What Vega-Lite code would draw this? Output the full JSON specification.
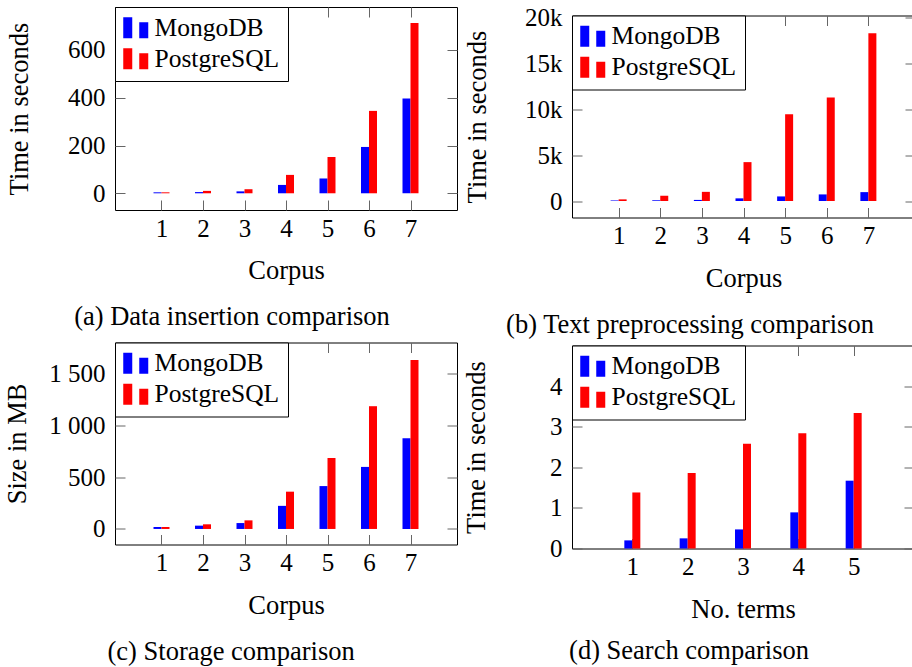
{
  "$schema": "https://vega.github.io/schema/vega-lite/v6.json",
  "padding": {"left": 4, "top": 5, "right": 0, "bottom": 0},
  "background": "white",
  "datasets": {
    "insertion": [
      {"corpus": 1, "db": "MongoDB", "value": 4}, {"corpus": 2, "db": "MongoDB", "value": 5},
      {"corpus": 3, "db": "MongoDB", "value": 8}, {"corpus": 4, "db": "MongoDB", "value": 35},
      {"corpus": 5, "db": "MongoDB", "value": 62}, {"corpus": 6, "db": "MongoDB", "value": 194},
      {"corpus": 7, "db": "MongoDB", "value": 397},
      {"corpus": 1, "db": "PostgreSQL", "value": 4}, {"corpus": 2, "db": "PostgreSQL", "value": 10},
      {"corpus": 3, "db": "PostgreSQL", "value": 17}, {"corpus": 4, "db": "PostgreSQL", "value": 77},
      {"corpus": 5, "db": "PostgreSQL", "value": 152}, {"corpus": 6, "db": "PostgreSQL", "value": 345},
      {"corpus": 7, "db": "PostgreSQL", "value": 713}
    ],
    "preprocessing": [
      {"corpus": 1, "db": "MongoDB", "value": 60}, {"corpus": 2, "db": "MongoDB", "value": 80},
      {"corpus": 3, "db": "MongoDB", "value": 120}, {"corpus": 4, "db": "MongoDB", "value": 290},
      {"corpus": 5, "db": "MongoDB", "value": 500}, {"corpus": 6, "db": "MongoDB", "value": 720},
      {"corpus": 7, "db": "MongoDB", "value": 970},
      {"corpus": 1, "db": "PostgreSQL", "value": 180}, {"corpus": 2, "db": "PostgreSQL", "value": 575},
      {"corpus": 3, "db": "PostgreSQL", "value": 1000}, {"corpus": 4, "db": "PostgreSQL", "value": 4245},
      {"corpus": 5, "db": "PostgreSQL", "value": 9460}, {"corpus": 6, "db": "PostgreSQL", "value": 11300},
      {"corpus": 7, "db": "PostgreSQL", "value": 18300}
    ],
    "storage": [
      {"corpus": 1, "db": "MongoDB", "value": 19}, {"corpus": 2, "db": "MongoDB", "value": 32},
      {"corpus": 3, "db": "MongoDB", "value": 57}, {"corpus": 4, "db": "MongoDB", "value": 223},
      {"corpus": 5, "db": "MongoDB", "value": 414}, {"corpus": 6, "db": "MongoDB", "value": 599},
      {"corpus": 7, "db": "MongoDB", "value": 876},
      {"corpus": 1, "db": "PostgreSQL", "value": 19}, {"corpus": 2, "db": "PostgreSQL", "value": 45},
      {"corpus": 3, "db": "PostgreSQL", "value": 83}, {"corpus": 4, "db": "PostgreSQL", "value": 360},
      {"corpus": 5, "db": "PostgreSQL", "value": 685}, {"corpus": 6, "db": "PostgreSQL", "value": 1185},
      {"corpus": 7, "db": "PostgreSQL", "value": 1631}
    ],
    "search": [
      {"terms": 1, "db": "MongoDB", "value": 0.2}, {"terms": 2, "db": "MongoDB", "value": 0.25},
      {"terms": 3, "db": "MongoDB", "value": 0.47}, {"terms": 4, "db": "MongoDB", "value": 0.89},
      {"terms": 5, "db": "MongoDB", "value": 1.67},
      {"terms": 1, "db": "PostgreSQL", "value": 1.38}, {"terms": 2, "db": "PostgreSQL", "value": 1.86},
      {"terms": 3, "db": "PostgreSQL", "value": 2.58}, {"terms": 4, "db": "PostgreSQL", "value": 2.84},
      {"terms": 5, "db": "PostgreSQL", "value": 3.34}
    ]
  },
  "spacing": 5,
  "resolve": {"scale": {"color": "independent"}, "legend": {"color": "independent"}},
  "hconcat": [
    {
      "spacing": 10.5,
      "resolve": {"scale": {"color": "independent"}, "legend": {"color": "independent"}},
      "vconcat": [
        {
          "width": 342, "height": 203,
          "data": {"name": "insertion"},
          "title": {"text": "(a) Data insertion comparison", "orient": "bottom", "frame": "bounds", "anchor": "middle", "offset": 20},
          "layer": [
            {
              "transform": [{"filter": "datum.db === 'MongoDB'"}],
              "mark": {"type": "bar", "width": 8, "xOffset": -4},
              "encoding": {
                "x": {"field": "corpus", "type": "quantitative", "scale": {"domain": [0, 8], "nice": false, "zero": false}, "axis": {"values": [1, 2, 3, 4, 5, 6, 7], "title": "Corpus"}},
                "y": {"field": "value", "type": "quantitative", "scale": {"domain": [-70, 780], "nice": false, "zero": false}, "axis": {"values": [0, 200, 400, 600], "title": "Time in seconds", "titlePadding": 34}},
                "color": {"field": "db", "type": "nominal", "scale": {"domain": ["MongoDB", "PostgreSQL"], "range": ["#0000ff", "#ff0000"]},
                  "legend": {"title": null, "orient": "top-left", "offset": 0, "strokeColor": "black", "fillColor": "white", "padding": 8, "symbolType": "M-1,-0.84H-0.28V0.84H-1Z M0.28,-0.44H1V0.84H0.28Z", "symbolSize": 625, "symbolStrokeWidth": 0, "symbolOpacity": 1, "labelFontSize": 25.5, "labelColor": "black", "rowPadding": 4, "labelOffset": 6}}
              }
            },
            {
              "transform": [{"filter": "datum.db === 'PostgreSQL'"}],
              "mark": {"type": "bar", "width": 8, "xOffset": 4},
              "encoding": {
                "x": {"field": "corpus", "type": "quantitative", "scale": {"domain": [0, 8], "nice": false, "zero": false}, "axis": null},
                "y": {"field": "value", "type": "quantitative", "scale": {"domain": [-70, 780], "nice": false, "zero": false}, "axis": null},
                "color": {"field": "db", "type": "nominal", "scale": {"domain": ["MongoDB", "PostgreSQL"], "range": ["#0000ff", "#ff0000"]},
                  "legend": {"title": null, "orient": "top-left", "offset": 0, "strokeColor": "black", "fillColor": "white", "padding": 8, "symbolType": "M-1,-0.84H-0.28V0.84H-1Z M0.28,-0.44H1V0.84H0.28Z", "symbolSize": 625, "symbolStrokeWidth": 0, "symbolOpacity": 1, "labelFontSize": 25.5, "labelColor": "black", "rowPadding": 4, "labelOffset": 6}}
              }
            },
            {
              "mark": {"type": "point", "opacity": 0},
              "encoding": {
                "x": {"field": "corpus", "type": "quantitative", "scale": {"domain": [0, 8], "nice": false, "zero": false}, "axis": {"orient": "top", "values": [1, 2, 3, 4, 5, 6, 7], "labels": false, "title": null}},
                "y": {"field": "value", "type": "quantitative", "scale": {"domain": [-70, 780], "nice": false, "zero": false}, "axis": {"orient": "right", "values": [0, 200, 400, 600], "labels": false, "title": null}}
              }
            }
          ],
          "resolve": {"axis": {"x": "independent", "y": "independent"}}
        },
        {
          "width": 342, "height": 202,
          "data": {"name": "storage"},
          "title": {"text": "(c) Storage comparison", "orient": "bottom", "frame": "bounds", "anchor": "middle", "offset": 20},
          "layer": [
            {
              "transform": [{"filter": "datum.db === 'MongoDB'"}],
              "mark": {"type": "bar", "width": 8, "xOffset": -4},
              "encoding": {
                "x": {"field": "corpus", "type": "quantitative", "scale": {"domain": [0, 8], "nice": false, "zero": false}, "axis": {"values": [1, 2, 3, 4, 5, 6, 7], "title": "Corpus"}},
                "y": {"field": "value", "type": "quantitative", "scale": {"domain": [-150, 1800], "nice": false, "zero": false}, "axis": {"values": [0, 500, 1000, 1500], "labelExpr": "replace(format(datum.value, ','), ',', ' ')", "title": "Size in MB", "titlePadding": 17}},
                "color": {"field": "db", "type": "nominal", "scale": {"domain": ["MongoDB", "PostgreSQL"], "range": ["#0000ff", "#ff0000"]},
                  "legend": {"title": null, "orient": "top-left", "offset": 0, "strokeColor": "black", "fillColor": "white", "padding": 8, "symbolType": "M-1,-0.84H-0.28V0.84H-1Z M0.28,-0.44H1V0.84H0.28Z", "symbolSize": 625, "symbolStrokeWidth": 0, "symbolOpacity": 1, "labelFontSize": 25.5, "labelColor": "black", "rowPadding": 4, "labelOffset": 6}}
              }
            },
            {
              "transform": [{"filter": "datum.db === 'PostgreSQL'"}],
              "mark": {"type": "bar", "width": 8, "xOffset": 4},
              "encoding": {
                "x": {"field": "corpus", "type": "quantitative", "scale": {"domain": [0, 8], "nice": false, "zero": false}, "axis": null},
                "y": {"field": "value", "type": "quantitative", "scale": {"domain": [-150, 1800], "nice": false, "zero": false}, "axis": null},
                "color": {"field": "db", "type": "nominal", "scale": {"domain": ["MongoDB", "PostgreSQL"], "range": ["#0000ff", "#ff0000"]},
                  "legend": {"title": null, "orient": "top-left", "offset": 0, "strokeColor": "black", "fillColor": "white", "padding": 8, "symbolType": "M-1,-0.84H-0.28V0.84H-1Z M0.28,-0.44H1V0.84H0.28Z", "symbolSize": 625, "symbolStrokeWidth": 0, "symbolOpacity": 1, "labelFontSize": 25.5, "labelColor": "black", "rowPadding": 4, "labelOffset": 6}}
              }
            },
            {
              "mark": {"type": "point", "opacity": 0},
              "encoding": {
                "x": {"field": "corpus", "type": "quantitative", "scale": {"domain": [0, 8], "nice": false, "zero": false}, "axis": {"orient": "top", "values": [1, 2, 3, 4, 5, 6, 7], "labels": false, "title": null}},
                "y": {"field": "value", "type": "quantitative", "scale": {"domain": [-150, 1800], "nice": false, "zero": false}, "axis": {"orient": "right", "values": [0, 500, 1000, 1500], "labels": false, "title": null}}
              }
            }
          ],
          "resolve": {"axis": {"x": "independent", "y": "independent"}}
        }
      ]
    },
    {
      "spacing": 5.5,
      "resolve": {"scale": {"color": "independent"}, "legend": {"color": "independent"}},
      "vconcat": [
        {
          "spacing": -3.5,
          "resolve": {"scale": {"color": "independent"}, "legend": {"color": "independent"}},
          "vconcat": [
            {
              "width": 343, "height": 1,
              "data": {"values": []},
              "mark": {"type": "point", "opacity": 0},
              "encoding": {},
              "view": {"stroke": null}
            },
            {
              "width": 343, "height": 202,
              "data": {"name": "preprocessing"},
              "title": {"text": "(b) Text preprocessing comparison", "orient": "bottom", "frame": "bounds", "anchor": "middle", "offset": 20},
              "layer": [
                {
                  "transform": [{"filter": "datum.db === 'MongoDB'"}],
                  "mark": {"type": "bar", "width": 8, "xOffset": -4},
                  "encoding": {
                    "x": {"field": "corpus", "type": "quantitative", "scale": {"domain": [0, 8], "nice": false, "zero": false}, "axis": {"values": [1, 2, 3, 4, 5, 6, 7], "title": "Corpus"}},
                    "y": {"field": "value", "type": "quantitative", "scale": {"domain": [-1800, 20250], "nice": false, "zero": false}, "axis": {"values": [0, 5000, 10000, 15000, 20000], "labelExpr": "datum.value === 0 ? '0' : (datum.value / 1000) + 'k'", "title": "Time in seconds", "titlePadding": 33}},
                    "color": {"field": "db", "type": "nominal", "scale": {"domain": ["MongoDB", "PostgreSQL"], "range": ["#0000ff", "#ff0000"]},
                      "legend": {"title": null, "orient": "top-left", "offset": 0, "strokeColor": "black", "fillColor": "white", "padding": 8, "symbolType": "M-1,-0.84H-0.28V0.84H-1Z M0.28,-0.44H1V0.84H0.28Z", "symbolSize": 625, "symbolStrokeWidth": 0, "symbolOpacity": 1, "labelFontSize": 25.5, "labelColor": "black", "rowPadding": 4, "labelOffset": 6}}
                  }
                },
                {
                  "transform": [{"filter": "datum.db === 'PostgreSQL'"}],
                  "mark": {"type": "bar", "width": 8, "xOffset": 4},
                  "encoding": {
                    "x": {"field": "corpus", "type": "quantitative", "scale": {"domain": [0, 8], "nice": false, "zero": false}, "axis": null},
                    "y": {"field": "value", "type": "quantitative", "scale": {"domain": [-1800, 20250], "nice": false, "zero": false}, "axis": null},
                    "color": {"field": "db", "type": "nominal", "scale": {"domain": ["MongoDB", "PostgreSQL"], "range": ["#0000ff", "#ff0000"]},
                      "legend": {"title": null, "orient": "top-left", "offset": 0, "strokeColor": "black", "fillColor": "white", "padding": 8, "symbolType": "M-1,-0.84H-0.28V0.84H-1Z M0.28,-0.44H1V0.84H0.28Z", "symbolSize": 625, "symbolStrokeWidth": 0, "symbolOpacity": 1, "labelFontSize": 25.5, "labelColor": "black", "rowPadding": 4, "labelOffset": 6}}
                  }
                },
                {
                  "mark": {"type": "point", "opacity": 0},
                  "encoding": {
                    "x": {"field": "corpus", "type": "quantitative", "scale": {"domain": [0, 8], "nice": false, "zero": false}, "axis": {"orient": "top", "values": [1, 2, 3, 4, 5, 6, 7], "labels": false, "title": null}},
                    "y": {"field": "value", "type": "quantitative", "scale": {"domain": [-1800, 20250], "nice": false, "zero": false}, "axis": {"orient": "right", "values": [0, 5000, 10000, 15000, 20000], "labels": false, "title": null}}
                  }
                }
              ],
              "resolve": {"axis": {"x": "independent", "y": "independent"}}
            }
          ]
        },
        {
          "width": 342, "height": 203,
          "data": {"name": "search"},
          "title": {"text": "(d) Search comparison", "orient": "bottom", "frame": "bounds", "anchor": "middle", "offset": 15},
          "layer": [
            {
              "transform": [{"filter": "datum.db === 'MongoDB'"}],
              "mark": {"type": "bar", "width": 8, "xOffset": -4},
              "encoding": {
                "x": {"field": "terms", "type": "quantitative", "scale": {"domain": [0, 6], "nice": false, "zero": false}, "axis": {"values": [1, 2, 3, 4, 5], "title": "No. terms"}},
                "y": {"field": "value", "type": "quantitative", "scale": {"domain": [0, 5], "nice": false, "zero": false}, "axis": {"values": [0, 1, 2, 3, 4], "title": "Time in seconds", "titlePadding": 59}},
                "color": {"field": "db", "type": "nominal", "scale": {"domain": ["MongoDB", "PostgreSQL"], "range": ["#0000ff", "#ff0000"]},
                  "legend": {"title": null, "orient": "top-left", "offset": 0, "strokeColor": "black", "fillColor": "white", "padding": 8, "symbolType": "M-1,-0.84H-0.28V0.84H-1Z M0.28,-0.44H1V0.84H0.28Z", "symbolSize": 625, "symbolStrokeWidth": 0, "symbolOpacity": 1, "labelFontSize": 25.5, "labelColor": "black", "rowPadding": 4, "labelOffset": 6}}
              }
            },
            {
              "transform": [{"filter": "datum.db === 'PostgreSQL'"}],
              "mark": {"type": "bar", "width": 8, "xOffset": 4},
              "encoding": {
                "x": {"field": "terms", "type": "quantitative", "scale": {"domain": [0, 6], "nice": false, "zero": false}, "axis": null},
                "y": {"field": "value", "type": "quantitative", "scale": {"domain": [0, 5], "nice": false, "zero": false}, "axis": null},
                "color": {"field": "db", "type": "nominal", "scale": {"domain": ["MongoDB", "PostgreSQL"], "range": ["#0000ff", "#ff0000"]},
                  "legend": {"title": null, "orient": "top-left", "offset": 0, "strokeColor": "black", "fillColor": "white", "padding": 8, "symbolType": "M-1,-0.84H-0.28V0.84H-1Z M0.28,-0.44H1V0.84H0.28Z", "symbolSize": 625, "symbolStrokeWidth": 0, "symbolOpacity": 1, "labelFontSize": 25.5, "labelColor": "black", "rowPadding": 4, "labelOffset": 6}}
              }
            },
            {
              "mark": {"type": "point", "opacity": 0},
              "encoding": {
                "x": {"field": "terms", "type": "quantitative", "scale": {"domain": [0, 6], "nice": false, "zero": false}, "axis": {"orient": "top", "values": [1, 2, 3, 4, 5], "labels": false, "title": null}},
                "y": {"field": "value", "type": "quantitative", "scale": {"domain": [0, 5], "nice": false, "zero": false}, "axis": {"orient": "right", "values": [0, 1, 2, 3, 4], "labels": false, "title": null}}
              }
            }
          ],
          "resolve": {"axis": {"x": "independent", "y": "independent"}}
        }
      ]
    }
  ],
  "config": {
    "font": "Liberation Serif",
    "view": {"stroke": "black", "strokeWidth": 1},
    "axis": {"grid": false, "domain": false, "tickSize": -10, "tickColor": "#666666", "tickWidth": 1, "labelFont": "Liberation Serif", "labelFontSize": 25, "labelColor": "black", "titleFont": "Liberation Serif", "titleFontSize": 26.5, "titleFontWeight": "normal", "titleColor": "black", "minExtent": 0, "maxExtent": 300},
    "axisX": {"labelPadding": 16, "titlePadding": 16.5, "labelAngle": 0},
    "axisY": {"labelPadding": 20},
    "title": {"font": "Liberation Serif", "fontSize": 26.5, "fontWeight": "normal", "color": "black"},
    "legend": {"labelFont": "Liberation Serif"}
  }
}
